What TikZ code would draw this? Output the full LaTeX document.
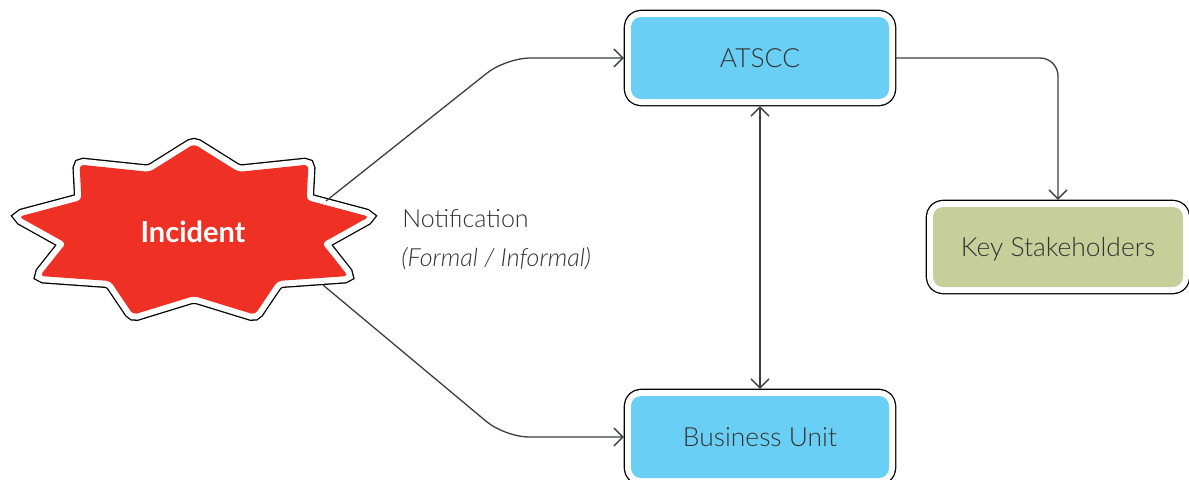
\documentclass[tikz,border=0pt]{standalone}
\usepackage{fontspec}
\IfFontExistsTF{Lato Light}
  {\setmainfont{Lato Light}[BoldFont=Lato Bold, ItalicFont=Lato Light Italic]}
  {\setmainfont{Lato}}
\usetikzlibrary{arrows.meta}
\definecolor{incred}{HTML}{EE3124}
\definecolor{boxblue}{HTML}{6ACFF5}
\definecolor{boxolive}{HTML}{C6CE9A}
\definecolor{ink}{HTML}{333333}
\definecolor{wire}{HTML}{3C3E44}
\begin{document}
\begin{tikzpicture}[x=0.5pt,y=-0.5pt,
  vtip/.tip={Straight Barb[length=4.5pt,width=9pt]},
  conn/.style={draw=wire, line width=0.65pt, -vtip},
  ringed/.style={line join=round,
    preaction={draw=black, line width=7.3pt},
    preaction={draw=white, line width=6pt}},
  framed/.style={ringed, rounded corners=5pt, outer sep=3.6pt, inner sep=0pt,
    text=ink, font=\fontsize{13.2}{15}\selectfont,
    text height=9.5pt, text depth=0pt},
  bluebox/.style={framed, fill=boxblue, minimum width=129pt, minimum height=41pt},
  olivebox/.style={framed, fill=boxolive, minimum width=125pt, minimum height=40pt},
  note/.style={anchor=base west, inner sep=0pt, text=ink, font=\fontsize{12.5}{15}\selectfont}]

% page
\fill[white] (0,0) rectangle (1189,479);
\useasboundingbox (0,0) rectangle (1189,479);

% incident burst: nine points on an ellipse
\path[ringed, fill=incred, rounded corners=2pt]
  (194,144) -- (238.5,171.9) -- (308.4,164.6) -- (306.6,200) -- (369.3,216.7)
  -- (322,243.1) -- (348.1,276) -- (277.6,281) -- (254.9,314.7) -- (194,296)
  -- (133.1,314.7) -- (110.4,281) -- (39.9,276) -- (66,243.1) -- (18.7,216.7)
  -- (81.4,200) -- (79.6,164.6) -- (149.5,171.9) -- cycle;
\node[text=white, font=\bfseries\fontsize{14.5}{17}\selectfont] (incident) at (193,232) {Incident};
\coordinate (inc-ne) at (326,201);
\coordinate (inc-se) at (323,285);

% boxes
\node[bluebox] (atscc) at (760,58) {ATSCC};
\node[bluebox] (bu) at (760,437) {Business Unit};
\node[olivebox] (ks) at (1058,247) {Key Stakeholders};

% notification label
\node[note] (notif) at (402,227) {Notification};
\node[note, font=\itshape\fontsize{12.5}{15}\selectfont] (notifkind) at (401,266) {(Formal / Informal)};

% connectors
\draw[conn, rounded corners=12pt] (inc-ne) -- (506,0 |- atscc.west) -- (atscc.west);
\draw[conn, rounded corners=12pt] (inc-se) -- (505,0 |- bu.west) -- (bu.west);
\draw[conn, rounded corners=9pt] (atscc.east) -| (ks.north);
\draw[conn, vtip-vtip] (atscc.south) -- (bu.north);
\end{tikzpicture}
\end{document}
